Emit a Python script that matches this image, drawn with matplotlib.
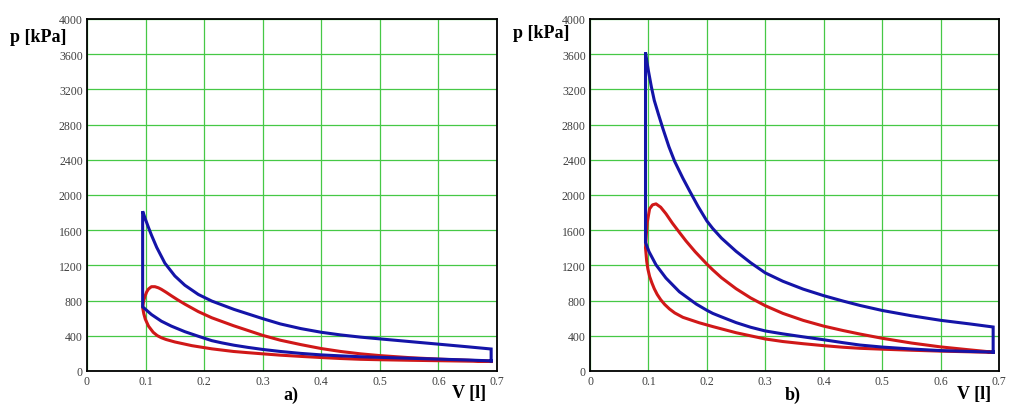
import numpy as np
import matplotlib; matplotlib.use("Agg")
import matplotlib.pyplot as plt

# ---------------------------------------------------------------- data (V [l], p [kPa])
# panel a) -- blue cycle
A_BLUE_COMP_V = [0.690, 0.650, 0.600, 0.550, 0.500, 0.467, 0.433, 0.400, 0.365, 0.330, 0.300, 0.275,
                 0.251, 0.230, 0.213, 0.190, 0.167, 0.144, 0.127, 0.110, 0.100, 0.095]
A_BLUE_COMP_P = [115, 125, 135, 145, 155, 162, 172, 183, 200, 222, 245, 268,
                 293, 320, 345, 395, 447, 510, 566, 642, 700, 730]
A_BLUE_EXP_V = [0.095, 0.100, 0.105, 0.110, 0.119, 0.133, 0.150, 0.167, 0.190, 0.213, 0.251, 0.300,
                0.330, 0.365, 0.400, 0.433, 0.467, 0.500, 0.550, 0.600, 0.650, 0.690]
A_BLUE_EXP_P = [1815, 1720, 1630, 1545, 1405, 1225, 1080, 975, 870, 795, 700, 595,
                535, 482, 440, 410, 385, 365, 335, 305, 275, 250]
# panel a) -- red cycle
A_RED_COMP_V = [0.690, 0.650, 0.600, 0.550, 0.500, 0.467, 0.433, 0.400, 0.365, 0.330, 0.300, 0.275,
                0.250, 0.213, 0.179, 0.150, 0.135, 0.127, 0.120, 0.113, 0.105, 0.0995, 0.097, 0.095]
A_RED_COMP_P = [108, 112, 117, 122, 128, 133, 142, 153, 166, 180, 195, 208,
                222, 252, 288, 330, 358, 378, 402, 440, 510, 590, 650, 720]
A_RED_EXP_V = [0.095, 0.0965, 0.099, 0.102, 0.105, 0.110, 0.116, 0.122, 0.127, 0.135, 0.144, 0.155,
               0.167, 0.190, 0.213, 0.250, 0.300, 0.330, 0.365, 0.400, 0.433, 0.467, 0.500,
               0.550, 0.600, 0.650, 0.690]
A_RED_EXP_P = [720, 790, 850, 900, 932, 958, 958, 945, 928, 895, 855, 808,
               760, 675, 605, 515, 405, 350, 300, 255, 222, 195, 175,
               152, 135, 122, 112]

# panel b) -- blue cycle
B_BLUE_COMP_V = [0.690, 0.650, 0.600, 0.550, 0.500, 0.462, 0.433, 0.400, 0.365, 0.330, 0.300, 0.275,
                 0.250, 0.225, 0.210, 0.200, 0.182, 0.153, 0.130, 0.113, 0.101, 0.095]
B_BLUE_COMP_P = [215, 222, 232, 250, 272, 295, 322, 355, 388, 422, 455, 497,
                 550, 615, 655, 690, 760, 900, 1056, 1206, 1356, 1460]
B_BLUE_EXP_V = [0.095, 0.098, 0.100, 0.105, 0.110, 0.117, 0.125, 0.135, 0.145, 0.159, 0.171, 0.185,
                0.200, 0.210, 0.225, 0.250, 0.275, 0.300, 0.330, 0.365, 0.400, 0.433, 0.462,
                0.500, 0.550, 0.600, 0.650, 0.690]
B_BLUE_EXP_P = [3620, 3490, 3410, 3230, 3075, 2920, 2750, 2550, 2380, 2190, 2040, 1870,
                1705, 1620, 1510, 1360, 1230, 1115, 1020, 930, 856, 795, 745,
                688, 628, 576, 535, 500]
# panel b) -- red cycle
B_RED_COMP_V = [0.690, 0.650, 0.600, 0.550, 0.500, 0.462, 0.433, 0.400, 0.365, 0.330, 0.300, 0.250,
                0.210, 0.187, 0.159, 0.145, 0.136, 0.128, 0.121, 0.115, 0.110, 0.106, 0.102,
                0.099, 0.097, 0.095]
B_RED_COMP_P = [212, 218, 226, 236, 248, 258, 270, 288, 310, 335, 364, 435,
                505, 548, 610, 660, 705, 755, 810, 870, 935, 1000, 1075,
                1160, 1250, 1400]
B_RED_EXP_V = [0.095, 0.0965, 0.098, 0.102, 0.107, 0.113, 0.121, 0.130, 0.141, 0.153, 0.164, 0.180,
               0.200, 0.210, 0.225, 0.250, 0.275, 0.300, 0.330, 0.365, 0.400, 0.433, 0.462,
               0.500, 0.550, 0.600, 0.650, 0.690]
B_RED_EXP_P = [1400, 1560, 1690, 1843, 1888, 1899, 1861, 1787, 1680, 1575, 1480, 1355,
               1215, 1150, 1060, 935, 830, 742, 655, 575, 510, 460, 420,
               372, 318, 274, 240, 214]

X_TICKS = [0, 0.1, 0.2, 0.3, 0.4, 0.5, 0.6, 0.7]
Y_TICKS = list(range(0, 4001, 400))

BLUE, RED, GRID = "#1414a8", "#d01818", "#46c846"
W, H = 1023, 414


def cycle(cv, cp, ev, ep):
    v = np.concatenate([cv, ev, cv[:1]])
    p = np.concatenate([cp, ep, cp[:1]])
    return v, p


def setup(ax):
    ax.set_xlim(0, 0.7); ax.set_ylim(0, 4000)
    ax.set_xticks(X_TICKS); ax.set_yticks(Y_TICKS)
    ax.set_xticklabels(["0"] + [f"{x:.1f}" for x in X_TICKS[1:]])
    ax.set_yticklabels([str(y) for y in Y_TICKS])
    ax.grid(True, color=GRID, lw=0.9)
    ax.set_axisbelow(True)
    ax.tick_params(length=0, pad=3, labelsize=8.5, labelcolor="#404040")
    for t in ax.get_xticklabels() + ax.get_yticklabels():
        t.set_fontfamily("Liberation Serif")
    for s in ax.spines.values():
        s.set_linewidth(1.3); s.set_color("black")


fig = plt.figure(figsize=(W / 100, H / 100), dpi=100)
axa = fig.add_axes([87 / W, 42 / H, 410 / W, 352 / H])
axb = fig.add_axes([590 / W, 42 / H, 409 / W, 352 / H])

for ax, red, blue in [
    (axa, (A_RED_COMP_V, A_RED_COMP_P, A_RED_EXP_V, A_RED_EXP_P),
          (A_BLUE_COMP_V, A_BLUE_COMP_P, A_BLUE_EXP_V, A_BLUE_EXP_P)),
    (axb, (B_RED_COMP_V, B_RED_COMP_P, B_RED_EXP_V, B_RED_EXP_P),
          (B_BLUE_COMP_V, B_BLUE_COMP_P, B_BLUE_EXP_V, B_BLUE_EXP_P))]:
    setup(ax)
    v, p = cycle(*red)
    ax.plot(v, p, color=RED, lw=2.2, solid_joinstyle="round", zorder=3)
    v, p = cycle(*blue)
    ax.plot(v, p, color=BLUE, lw=2.2, solid_joinstyle="miter", zorder=4)

lab = dict(family="Liberation Serif", fontweight="bold", fontsize=13)
fig.text(10 / W, 1 - 37 / H, "p [kPa]", ha="left", va="center", **lab)
fig.text(513 / W, 1 - 33 / H, "p [kPa]", ha="left", va="center", **lab)
fig.text(452 / W, 1 - 394 / H, "V [l]", ha="left", va="center", **lab)
fig.text(957 / W, 1 - 395 / H, "V [l]", ha="left", va="center", **lab)
fig.text(283 / W, 1 - 395 / H, "a)", ha="left", va="center", **lab)
fig.text(785 / W, 1 - 395 / H, "b)", ha="left", va="center", **lab)

fig.savefig("out.png", dpi=100)
